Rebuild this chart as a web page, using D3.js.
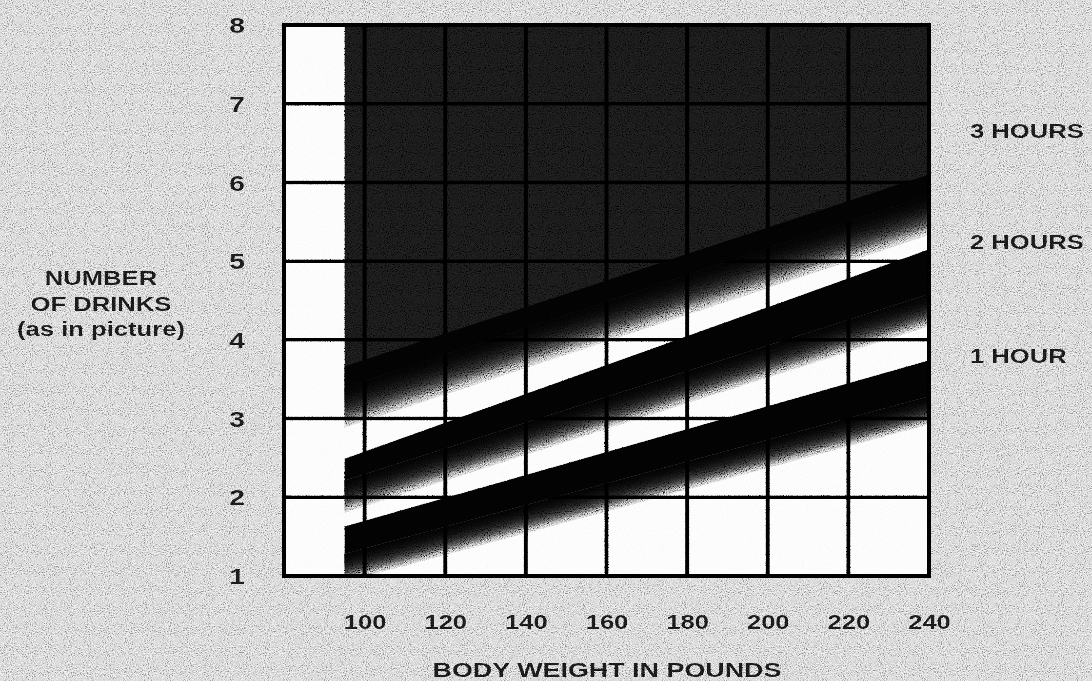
<!DOCTYPE html>
<html><head><meta charset="utf-8">
<script src="https://cdn.jsdelivr.net/npm/d3@7"></script>
<style>
html,body{margin:0;padding:0;background:#c4c4c4;}
svg{display:block}
text{font-family:"Liberation Sans",Arial,Helvetica,sans-serif;font-weight:bold;fill:#151515;}
</style>
</head><body>
<svg id="chart" width="1092" height="681"></svg>
<script>
// ---- data ----
const weightTicks = [100, 120, 140, 160, 180, 200, 220, 240];
const drinkTicks = [1, 2, 3, 4, 5, 6, 7, 8];
const bandWeights = [95, 240];
const threeHourEdge = [3.39, 5.84];
const threeHourStripe = [3.66, 6.10];
const twoHourTop = [2.49, 5.15];
const twoHourBottom = [2.21, 4.58];
const oneHourTop = [1.63, 3.74];
const oneHourBottom = [1.28, 3.28];
const bandLabels = ["3 HOURS", "2 HOURS", "1 HOUR"];
const bandLabelDrinks = [6.65, 5.24, 3.79];
const yTitleLines = ["NUMBER", "OF DRINKS", "(as in picture)"];
const xTitle = "BODY WEIGHT IN POUNDS";

// ---- layout ----
const W = 1092, H = 681;
const x = d3.scaleLinear().domain([80, 240]).range([284, 929]);
const y = d3.scaleLinear().domain([1, 8]).range([576, 25]);
const STRETCH = 1.28;

const svg = d3.select("#chart");
const defs = svg.append("defs");

const grain = defs.append("filter").attr("id", "grain")
  .attr("filterUnits", "userSpaceOnUse").attr("x", 0).attr("y", 0).attr("width", W).attr("height", H);
grain.append("feTurbulence").attr("type", "fractalNoise").attr("baseFrequency", 0.95)
  .attr("numOctaves", 2).attr("seed", 5).attr("stitchTiles", "stitch");
grain.append("feColorMatrix").attr("type", "matrix")
  .attr("values", "1 0 0 0 0  1 0 0 0 0  1 0 0 0 0  0 0 0 0 1");
const ct = grain.append("feComponentTransfer");
["feFuncR", "feFuncG", "feFuncB"].forEach(f => ct.append(f).attr("type", "linear").attr("slope", 2.2).attr("intercept", -0.6));

defs.append("clipPath").attr("id", "plotClip").append("rect")
  .attr("x", x(80)).attr("y", y(8)).attr("width", x(240) - x(80)).attr("height", y(1) - y(8));

// background
svg.append("rect").attr("width", W).attr("height", H).attr("fill", "#c6c6c6");

const plot = svg.append("g").attr("clip-path", "url(#plotClip)");
plot.append("rect").attr("x", x(80)).attr("y", y(8))
  .attr("width", x(240) - x(80)).attr("height", y(1) - y(8)).attr("fill", "#fbfbfb");

function rows(lo, hi) { return bandWeights.map((w, i) => ({ w, lo: lo[i], hi: hi[i] })); }

// top dark region
plot.append("path")
  .datum(rows(threeHourEdge, bandWeights.map(() => 8)))
  .attr("fill", "#141414")
  .attr("d", d3.area().x(d => x(d.w)).y0(d => y(d.lo)).y1(d => y(d.hi)));

// fades below each band
function fade(lower, depth) {
  const N = 18, a = 0.2;
  for (let k = 1; k <= N; k++) {
    const off = depth * k / N;
    plot.append("path")
      .datum(bandWeights.map((w, i) => ({ w, v: lower[i] })))
      .attr("fill", "#000").attr("fill-opacity", a)
      .attr("d", d3.area().x(d => x(d.w)).y0(d => y(d.v) + off).y1(d => y(d.v)));
  }
}
fade(threeHourEdge, 40);
fade(twoHourBottom, 32);
fade(oneHourBottom, 28);

// grid
const grid = svg.append("g").attr("stroke", "#000");
grid.selectAll("line.h").data(drinkTicks.slice(1, -1)).join("line")
  .attr("x1", x(80)).attr("x2", x(240)).attr("y1", d => y(d)).attr("y2", d => y(d)).attr("stroke-width", 3.5);
grid.selectAll("line.v").data(weightTicks.slice(0, -1)).join("line")
  .attr("y1", y(8)).attr("y2", y(1)).attr("x1", d => x(d)).attr("x2", d => x(d)).attr("stroke-width", 4);

// solid bands
const bandArea = d3.area().x(d => x(d.w)).y0(d => y(d.lo)).y1(d => y(d.hi));
svg.append("g").attr("clip-path", "url(#plotClip)").selectAll("path")
  .data([rows(threeHourEdge, threeHourStripe), rows(twoHourBottom, twoHourTop), rows(oneHourBottom, oneHourTop)])
  .join("path").attr("fill", "#020202").attr("d", bandArea);

// border
svg.append("rect").attr("x", x(80)).attr("y", y(8))
  .attr("width", x(240) - x(80)).attr("height", y(1) - y(8))
  .attr("fill", "none").attr("stroke", "#000").attr("stroke-width", 4);

// axes (labels only)
const xAxis = svg.append("g").attr("transform", `translate(0,${y(1) + 46})`)
  .call(d3.axisBottom(x).tickValues(weightTicks).tickSize(0).tickPadding(0).tickFormat(d3.format("d")));
xAxis.select(".domain").remove();
xAxis.selectAll("text").attr("font-size", 20).attr("dy", "0.35em");

const yAxis = svg.append("g").attr("transform", `translate(${x(80) - 47},0)`)
  .call(d3.axisLeft(y).tickValues(drinkTicks).tickSize(0).tickPadding(0).tickFormat(d3.format("d")));
yAxis.select(".domain").remove();
yAxis.selectAll("text").attr("font-size", 22).attr("text-anchor", "middle").attr("dy", "0.35em");
svg.selectAll(".tick text").attr("fill", null)
  .style("font-family", '"Liberation Sans",Arial,sans-serif').style("font-weight", "bold").style("fill", "#151515");

// band labels
svg.append("g").selectAll("text").data(bandLabels).join("text")
  .attr("x", 970).attr("y", (d, i) => y(bandLabelDrinks[i])).attr("dy", "0.35em")
  .attr("font-size", 20).text(d => d);

// y title
svg.append("g").selectAll("text").data(yTitleLines).join("text")
  .attr("x", 101).attr("y", (d, i) => 278 + i * 25.5).attr("dy", "0.35em")
  .attr("text-anchor", "middle").attr("font-size", 20).text(d => d);

// x title
svg.append("text").attr("x", 607).attr("y", 670).attr("dy", "0.35em")
  .attr("text-anchor", "middle").attr("font-size", 21).text(xTitle);

// horizontal stretch of the scanned lettering
svg.selectAll("text").each(function () {
  const L = this.getComputedTextLength();
  d3.select(this).attr("textLength", L * STRETCH).attr("lengthAdjust", "spacingAndGlyphs");
});

// paper grain
svg.append("rect").attr("width", W).attr("height", H).attr("filter", "url(#grain)")
  .style("mix-blend-mode", "overlay").attr("opacity", 0.85).attr("pointer-events", "none");
</script>
</body></html>
